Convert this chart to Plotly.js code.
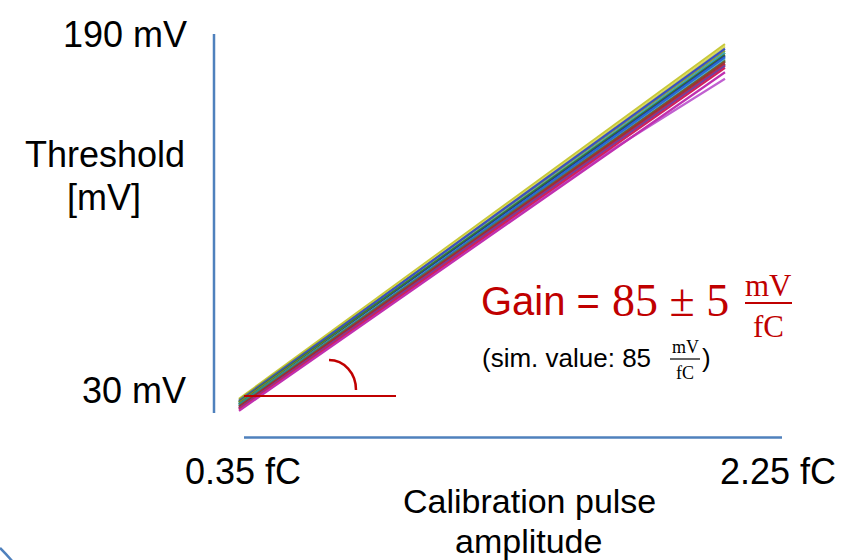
<!DOCTYPE html>
<html>
<head>
<meta charset="utf-8">
<script src="https://cdn.plot.ly/plotly-3.0.1.min.js"></script>
<style>html,body{margin:0;padding:0;background:#fff}#chart{width:848px;height:560px}</style>
</head>
<body>
<div id="chart"></div>
<script>
// Calibration pulse amplitude (fC) at which each channel's threshold was sampled
const pulseAmplitude = [0.35, 0.825, 1.3, 1.775, 2.25];

// Threshold (mV) per channel
const ch01 = [30.5, 71.6, 112.8, 153.8, 195.0];
const ch02 = [29.5, 70.3, 111.4, 152.1, 193.0];
const ch03 = [30.0, 70.6, 111.1, 151.4, 192.0];
const ch04 = [28.5, 69.2, 109.6, 150.4, 191.0];
const ch05 = [29.0, 69.4, 109.5, 149.8, 190.0];
const ch06 = [28.0, 68.3, 108.8, 149.0, 189.5];
const ch07 = [27.5, 67.6, 108.1, 148.3, 188.5];
const ch08 = [28.8, 68.4, 108.3, 148.1, 188.0];
const ch09 = [27.0, 67.2, 106.9, 147.1, 187.0];
const ch10 = [26.5, 66.3, 106.3, 146.2, 186.0];
const ch11 = [28.0, 67.8, 107.9, 147.6, 187.5];
const ch12 = [26.0, 65.6, 105.6, 145.3, 185.0];
const ch13 = [25.5, 65.2, 104.8, 144.3, 184.0];
const ch14 = [25.0, 64.4, 103.6, 142.8, 182.0];
const ch15 = [26.0, 64.9, 103.9, 143.6, 179.0];
const ch16 = [29.5, 70.7, 111.7, 152.9, 194.0];
const ch17 = [27.0, 67.4, 108.0, 148.4, 189.0];
const ch18 = [27.8, 67.5, 107.4, 147.2, 187.0];
const ch19 = [26.0, 65.8, 105.9, 145.6, 185.5];
const ch20 = [29.0, 69.6, 110.0, 150.4, 191.0];

const channels = [ch15, ch01, ch16, ch03, ch20, ch02, ch04, ch05, ch08, ch06, ch11, ch07, ch17, ch18, ch09, ch10, ch19, ch12, ch13, ch14];
const channelColors = ['#c060d0', '#c8c83a', '#dada5c', '#8aa03a', '#9ab060', '#3a4fc4', '#3aa0b8', '#3c7a2a',
                       '#7a8a2a', '#203a8a', '#50a050', '#58b0e0', '#2a6ad0', '#2a8a8a', '#8a4a2a', '#a02040',
                       '#c83030', '#7040a0', '#d0205a', '#c030b0'];

// Text labels
const yTop = '190 mV', yBottom = '30 mV';
const xLeft = '0.35 fC', xRight = '2.25 fC';
const yTitle = ['Threshold', '[mV]'];
const xTitle = ['Calibration pulse', 'amplitude'];

const W = 848, H = 560;
const px = x => x / W;
const py = y => 1 - y / H;

const traces = channels.map((vals, i) => ({
  x: pulseAmplitude, y: vals, type: 'scatter', mode: 'lines',
  line: {color: channelColors[i], width: 2.2}, showlegend: false, hoverinfo: 'skip'
}));

const sans = 'Liberation Sans, Arial, sans-serif';
const serif = 'Liberation Serif, Cambria, serif';
function ann(text, x, y, size, color, family, xanchor) {
  return {text, x: px(x), y: py(y), xref: 'paper', yref: 'paper', showarrow: false,
          xanchor: xanchor || 'center', yanchor: 'middle', borderpad: 0,
          font: {size, color: color || '#000', family: family || sans}};
}
const red = '#c00000', blue = '#4f81bd';

const annotations = [
  ann(yTop, 125, 34, 36), ann(yBottom, 134, 390, 36),
  ann(yTitle[0], 105, 154, 36), ann(yTitle[1], 104, 197, 36),
  ann(xLeft, 243, 471, 36), ann(xRight, 778, 471, 36),
  ann(xTitle[0], 529, 501, 34), ann(xTitle[1], 528, 541, 34),
  ann('Gain =', 480, 301, 40, red, sans, 'left'),
  ann('85 ± 5', 611, 300, 46, red, serif, 'left'),
  ann('mV', 768, 285, 31, red, serif), ann('fC', 768, 326, 31, red, serif),
  ann('(sim. value: 85', 481, 358, 26, '#000', sans, 'left'),
  ann('mV', 685, 347, 18, '#000', serif), ann('fC', 685, 373, 18, '#000', serif),
  ann(')', 701, 358, 26, '#000', sans, 'left')
];

function pline(x0, y0, x1, y1, color, width) {
  return {type: 'line', xref: 'paper', yref: 'paper', x0: px(x0), y0: py(y0), x1: px(x1), y1: py(y1),
          line: {color, width}};
}
const P = (x, y) => px(x).toFixed(5) + ',' + py(y).toFixed(5);
const shapes = [
  pline(214, 34, 214, 413, blue, 2.5),
  pline(244, 437.5, 782, 437.5, blue, 2.5),
  pline(244, 396, 396, 396, red, 2),
  pline(745, 303, 792, 303, red, 2),
  pline(670, 359, 700, 359, '#000', 1.2),
  {type: 'path', xref: 'paper', yref: 'paper', line: {color: red, width: 2.5},
   path: 'M' + P(329, 360) + ' C' + P(344, 360) + ' ' + P(356, 373) + ' ' + P(356, 390)},
  {type: 'path', xref: 'paper', yref: 'paper', line: {color: blue, width: 2.5},
   path: 'M' + P(0, 548) + ' Q' + P(6, 554) + ' ' + P(13, 562)}
];

const layout = {
  width: W, height: H, margin: {l: 0, r: 0, t: 0, b: 0},
  paper_bgcolor: '#fff', plot_bgcolor: '#fff',
  xaxis: {range: [-0.5844, 2.7309], visible: false, fixedrange: true},
  yaxis: {range: [-44.2, 215.5], visible: false, fixedrange: true},
  annotations, shapes, showlegend: false
};
Plotly.newPlot('chart', traces, layout, {staticPlot: true, displayModeBar: false});
</script>
</body>
</html>
